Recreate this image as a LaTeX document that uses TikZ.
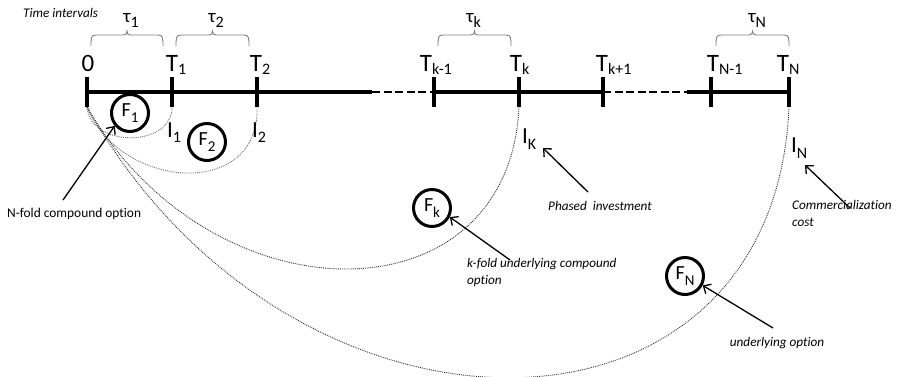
\documentclass[tikz,border=0pt]{standalone}
\usepackage{fontspec}
\setmainfont{Carlito}[Ligatures=NoCommon]
\usetikzlibrary{arrows.meta}
\newcommand\lsub[3]{#1\rlap{\raisebox{#3}{\fontsize{16}{16}\selectfont #2}}}
\newcommand\csub[3]{#1\raisebox{#3}{\fontsize{15}{15}\selectfont #2}}
\newcommand\tbrace[2]{%
  \pgfmathsetmacro\bxm{(#1+#2)/2}%
  \draw[bracestyle] (#1,46) .. controls (#1,38) and (#1,35) .. (#1+5,35) -- (\bxm-4,35)
    .. controls (\bxm-1,35) and (\bxm,34) .. (\bxm,31)
    .. controls (\bxm,34) and (\bxm+1,35) .. (\bxm+4,35) -- (#2-5,35)
    .. controls (#2,35) and (#2,38) .. (#2,46);}
\begin{document}
\begin{tikzpicture}[x=1pt,y=-1pt,
  axis/.style={line width=3.5pt},
  axisdash/.style={line width=2.5pt, dash pattern=on 8pt off 3.5pt},
  tickline/.style={line width=3.5pt},
  fcirc/.style={circle, draw, fill=white, line width=3pt, minimum size=37pt, inner sep=0pt, font=\fontsize{20}{24}\selectfont},
  arr/.style={line width=1.3pt, -{Straight Barb[length=6pt,width=11pt]}},
  smallarc/.style={black!55, line width=0.9pt, densely dotted},
  bigarc/.style={black!80, line width=0.9pt, densely dotted},
  bracestyle/.style={black!50, line width=0.9pt},
  note/.style={font=\fontsize{13.2}{17}\selectfont\itshape, inner sep=0pt},
  tlab/.style={font=\fontsize{25}{30}\selectfont, inner sep=0pt, anchor=base},
  ilab/.style={font=\fontsize{23}{28}\selectfont, inner sep=0pt, anchor=base},
  taulab/.style={font=\fontsize{19}{24}\selectfont, inner sep=0pt, anchor=base}]
\useasboundingbox (0,0) rectangle (897,376);
% timeline points
\coordinate (p0) at (87,92);
\coordinate (p1) at (172,92);
\coordinate (p2) at (257,92);
\coordinate (pkm) at (434,92);
\coordinate (pk) at (519,92);
\coordinate (pkp) at (603,92);
\coordinate (pnm) at (711,92);
\coordinate (pn) at (789,92);
\coordinate (d1) at (372,92);
\coordinate (d2) at (687,92);
\draw[axis] (p0) -- (d1);
\draw[axisdash] (d1) -- (pkm);
\draw[axis] (pkm) -- (pkp);
\draw[axisdash] (pkp) -- (d2);
\draw[axis] (d2) -- (pn);
\foreach \p in {p0,p1,p2,pkm,pk,pkp,pnm,pn}
  \draw[tickline] ([yshift=15pt]\p) -- ([yshift=-15pt]\p);
% arc end points
\coordinate (b0) at (87,107);
\coordinate (b1) at (172,107);
\coordinate (b2) at (257,107);
\coordinate (bk) at (519,107);
\coordinate (bn) at (789,107);
\draw[smallarc] (b0) .. controls (90,148) and (172,148) .. (b1);
\draw[smallarc] (b0) .. controls (120,190) and (260,200) .. (b2);
\draw[bigarc] (b0) .. controls (212,323) and (509,323) .. (bk);
\draw[bigarc] (b0) .. controls (290,468) and (774,468) .. (bn);
% braces and tau labels
\tbrace{91}{163}
\tbrace{176}{249}
\tbrace{438}{511}
\tbrace{716}{789}
\node[note, anchor=base west] (tint) at (23,17.5) {Time intervals};
\node[taulab] (tau1) at (127,22) {\lsub{τ}{1}{-5pt}};
\node[taulab] (tau2) at (212,22) {\lsub{τ}{2}{-5pt}};
\node[taulab] (tauk) at (470,22) {\lsub{τ}{k}{-5pt}};
\node[taulab] (taun) at (752,22) {\lsub{τ}{N}{-5pt}};
% time labels
\node[tlab] (L0) at (88,71) {0};
\node[tlab] (L1) at (172,71) {\lsub{T}{1}{-3pt}};
\node[tlab] (L2) at (256,71) {\lsub{T}{2}{-3pt}};
\node[tlab] (Lkm) at (426,71) {\lsub{T}{k-1}{-3pt}};
\node[tlab] (Lk) at (516,71) {\lsub{T}{k}{-3pt}};
\node[tlab] (Lkp) at (602,71) {\lsub{T}{k+1}{-3pt}};
\node[tlab] (Lnm) at (713,71) {\lsub{T}{N-1}{-3pt}};
\node[tlab] (Ln) at (783,71) {\lsub{T}{N}{-3pt}};
% investment labels
\node[ilab] (I1) at (170,137) {\lsub{I}{1}{-5pt}};
\node[ilab] (I2) at (255,137) {\lsub{I}{2}{-5pt}};
\node[ilab] (IK) at (525,143) {\lsub{I}{K}{-6pt}};
\node[ilab] (IN) at (794,152) {\lsub{I}{N}{-6pt}};
% option circles
\node[fcirc] (F1) at (130,113) {\csub{F}{1}{-6pt}};
\node[fcirc] (F2) at (207,142) {\csub{F}{2}{-6pt}};
\node[fcirc] (Fk) at (432,208) {\csub{F}{k}{-6pt}};
\node[fcirc] (FN) at (685,276) {\csub{F}{N}{-6pt}};
% notes
\node[note, font=\fontsize{13.4}{17}\selectfont, anchor=base west] (nfold) at (7,217) {N-fold compound option};
\node[note, anchor=base west, align=left] (kfold) at (467,284) {k-fold underlying compound\\option};
\node[note, anchor=base] (phased) at (600,210.5) {Phased\ \ investment};
\node[note, anchor=base west, align=left] (comm) at (792,226) {Commercialization\\cost};
\node[note, anchor=base] (under) at (777,346) {underlying option};
% arrows
\coordinate (nt) at (63,200);
\draw[arr] (nt) -- (F1.220);
\coordinate (kt) at (510,260);
\draw[arr] (kt) -- (Fk.-27);
\coordinate (pt) at (588,192);
\coordinate (ptip) at (543,148);
\draw[arr] (pt) -- (ptip);
\coordinate (ct) at (850,208);
\coordinate (ctip) at (805,165);
\draw[arr] (ct) -- (ctip);
\coordinate (ut) at (773,328);
\draw[arr] (ut) -- (FN.-28);
\end{tikzpicture}
\end{document}
